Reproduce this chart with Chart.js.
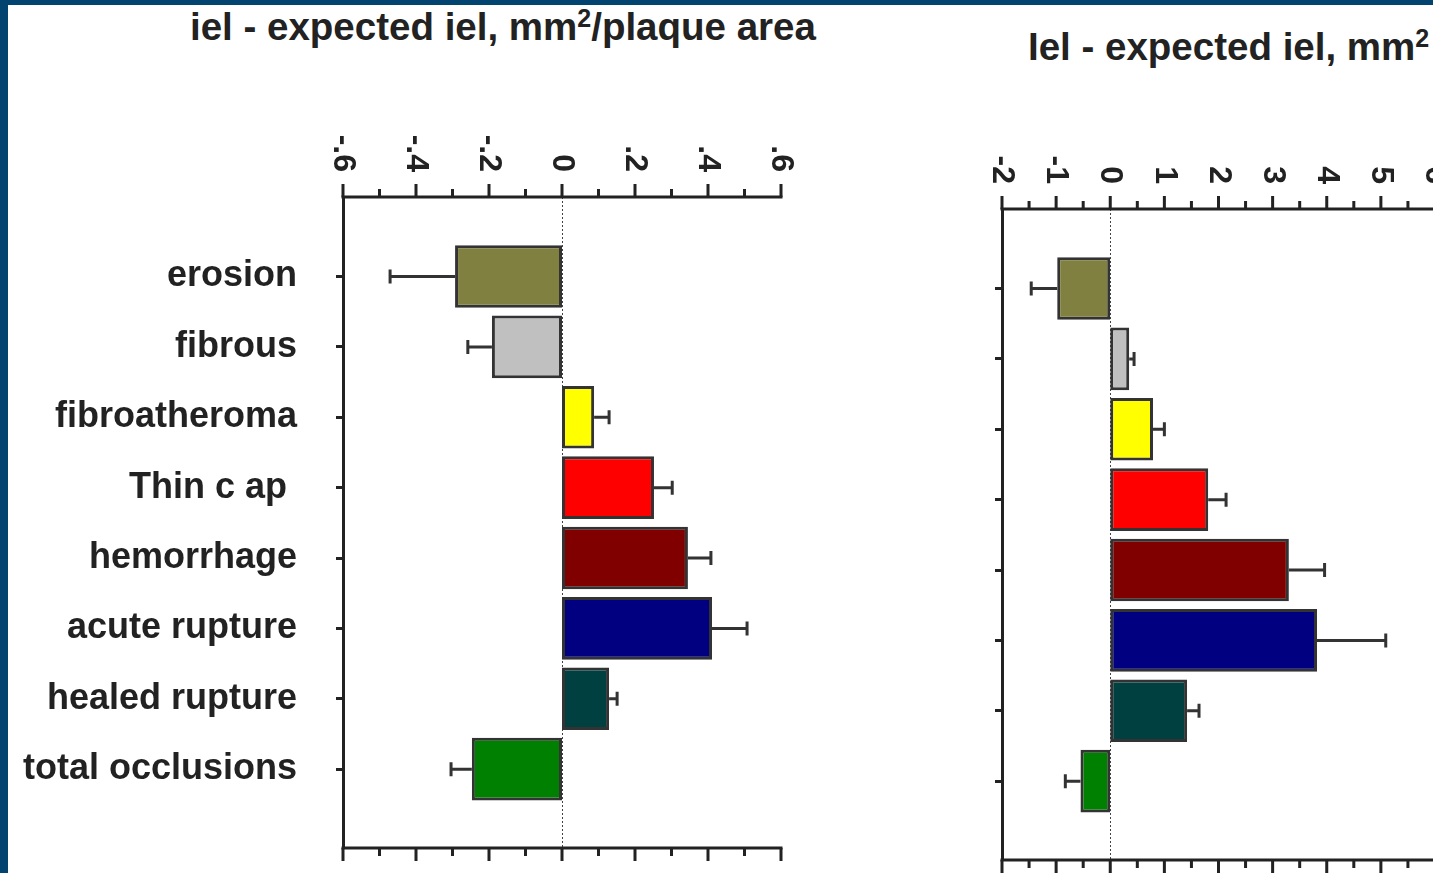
<!DOCTYPE html>
<html>
<head>
<meta charset="utf-8">
<script src="https://cdn.jsdelivr.net/npm/chart.js@4.4.0/dist/chart.umd.min.js"></script>
<style>
  html, body { margin:0; padding:0; background:#fff; width:1433px; height:873px; overflow:hidden; position:relative; }
  .marcoArriba { position:absolute; left:0; top:0; width:1433px; height:5px; background:#02446f; z-index:2; }
  .marcoIzq { position:absolute; left:0; top:0; width:8px; height:873px; background:#02446f; z-index:2; }
  .titulo { position:absolute; font:bold 38.5px "Liberation Sans", Arial, sans-serif; color:#222; white-space:nowrap; line-height:38px; }
  .titulo sup { font-size:25px; vertical-align:13px; line-height:0; }
  #cajaIzq { position:absolute; left:0; top:0; width:900px; height:920px; }
  #cajaDer { position:absolute; left:920px; top:0; width:600px; height:920px; }
</style>
</head>
<body>
<div class="marcoArriba"></div>
<div class="marcoIzq"></div>
<div class="titulo" style="left:190px; top:8px;">iel - expected iel, mm<sup>2</sup>/plaque area</div>
<div class="titulo" style="left:1028px; top:28px;">Iel - expected iel, mm<sup>2</sup></div>
<div id="cajaIzq"><canvas id="chartArea" width="900" height="920"></canvas></div>
<div id="cajaDer"><canvas id="chartMm" width="600" height="920"></canvas></div>

<script>
// categorias y colores de cada tipo de placa
const categorias = ["erosion", "fibrous", "fibroatheroma", "Thin c ap ", "hemorrhage", "acute rupture", "healed rupture", "total occlusions"];
const colores = ["#808040", "#c0c0c0", "#ffff00", "#ff0000", "#800000", "#000080", "#004040", "#008000"];

// grafico izquierdo: mm2 / plaque area
const valoresArea = [-0.293, -0.192, 0.088, 0.252, 0.345, 0.411, 0.129, -0.247];
const erroresArea = [0.178, 0.066, 0.041, 0.050, 0.063, 0.096, 0.022, 0.057];
const ticksArea = [-0.6, -0.4, -0.2, 0, 0.2, 0.4, 0.6];
const etiquetasArea = ["-.6", "-.4", "-.2", "0", ".2", ".4", ".6"];

// grafico derecho: mm2
const valoresMm = [-0.98, 0.35, 0.79, 1.81, 3.30, 3.82, 1.42, -0.55];
const erroresMm = [0.48, 0.09, 0.21, 0.33, 0.66, 1.27, 0.22, 0.28];
const ticksMm = [-2, -1, 0, 1, 2, 3, 4, 5, 6];
const etiquetasMm = ["-2", "-1", "0", "1", "2", "3", "4", "5", "6"];

const FUENTE = '"Liberation Sans", Arial, sans-serif';
const TINTA = '#222';

// Ejes de arriba y abajo con marcas mayores/menores y etiquetas giradas
const pluginEjes = {
  id: 'ejes',
  beforeDatasetsDraw(chart) {
    const {ctx, chartArea: a, scales: {x}} = chart;
    ctx.save();
    ctx.strokeStyle = '#444';
    ctx.lineWidth = 1;
    ctx.setLineDash([2, 2]);
    const x0 = Math.round(x.getPixelForValue(0)) + 0.5;
    ctx.beginPath();
    ctx.moveTo(x0, a.top);
    ctx.lineTo(x0, a.bottom);
    ctx.stroke();
    ctx.restore();
  },
  afterDraw(chart, args, opts) {
    const {ctx, chartArea: a, scales: {x}} = chart;
    const mayores = opts.mayores;
    const xFin = x.getPixelForValue(mayores[mayores.length - 1]);
    ctx.save();
    ctx.strokeStyle = TINTA;
    ctx.lineWidth = 3;
    // lineas de arriba y abajo
    ctx.beginPath();
    ctx.moveTo(a.left - 1.5, a.top);
    ctx.lineTo(xFin + 1.5, a.top);
    ctx.moveTo(a.left - 1.5, a.bottom);
    ctx.lineTo(xFin + 1.5, a.bottom);
    ctx.stroke();

    const marca = (v, largo) => {
      const px = x.getPixelForValue(v);
      ctx.beginPath();
      ctx.moveTo(px, a.top);
      ctx.lineTo(px, a.top - largo);
      ctx.moveTo(px, a.bottom);
      ctx.lineTo(px, a.bottom + largo);
      ctx.stroke();
    };
    mayores.forEach(v => marca(v, 13));
    for (let i = 0; i < mayores.length - 1; i++) {
      marca((mayores[i] + mayores[i + 1]) / 2, 8);
    }

    // etiquetas giradas 90 grados
    ctx.fillStyle = TINTA;
    ctx.font = 'bold 32px ' + FUENTE;
    ctx.textAlign = 'right';
    ctx.textBaseline = 'middle';
    mayores.forEach((v, i) => {
      ctx.save();
      ctx.translate(x.getPixelForValue(v), a.top - 25);
      ctx.rotate(Math.PI / 2);
      ctx.fillText(opts.etiquetas[i], 0, 0);
      ctx.restore();
    });
    ctx.restore();
  }
};

// barras de error de un solo lado
const pluginErrores = {
  id: 'errores',
  afterDatasetsDraw(chart, args, opts) {
    const {ctx, scales: {x, y}} = chart;
    const datos = chart.data.datasets[0].data;
    ctx.save();
    ctx.strokeStyle = '#333';
    ctx.lineWidth = 3;
    datos.forEach((d, i) => {
      const signo = d.x < 0 ? -1 : 1;
      const xa = x.getPixelForValue(d.x);
      const xb = x.getPixelForValue(d.x + signo * opts.valores[i]);
      const py = y.getPixelForValue(d.y);
      ctx.beginPath();
      ctx.moveTo(xa, py);
      ctx.lineTo(xb, py);
      ctx.moveTo(xb, py - 7);
      ctx.lineTo(xb, py + 7);
      ctx.stroke();
    });
    ctx.restore();
  }
};

function crearGrafico(idCanvas, valores, errores, mayores, etiquetas, conEtiquetas, anchoEje, relleno) {
  const canvas = document.getElementById(idCanvas);
  new Chart(canvas, {
    type: 'bar',
    data: {
      datasets: [{
        data: valores.map((v, i) => ({x: v, y: i})),
        backgroundColor: colores,
        borderColor: '#333',
        borderWidth: 3,
        borderSkipped: false,
        categoryPercentage: 1,
        barPercentage: 0.89
      }]
    },
    options: {
      indexAxis: 'y',
      responsive: false,
      animation: false,
      layout: { padding: relleno },
      plugins: {
        legend: { display: false },
        tooltip: { enabled: false },
        ejes: { mayores: mayores, etiquetas: etiquetas },
        errores: { valores: errores }
      },
      scales: {
        x: { type: 'linear', display: false, min: mayores[0], max: mayores[mayores.length - 1] },
        y: {
          type: 'linear',
          reverse: true,
          offset: false,
          min: -1.13,
          max: 8.12,
          afterBuildTicks: s => { s.ticks = categorias.map((c, i) => ({value: i})); },
          afterFit: s => { s.width = anchoEje; },
          ticks: {
            display: conEtiquetas,
            padding: 39,
            color: TINTA,
            font: { family: FUENTE, size: 36, weight: 'bold' },
            callback: v => categorias[v]
          },
          grid: { offset: false, drawOnChartArea: false, tickLength: 7, tickWidth: 3, tickColor: TINTA },
          border: { display: true, width: 3, color: TINTA }
        }
      }
    },
    plugins: [pluginEjes, pluginErrores]
  });
}

crearGrafico('chartArea', valoresArea, erroresArea, ticksArea, etiquetasArea, true, 343, {top: 197, bottom: 72, left: 0, right: 119});
crearGrafico('chartMm', valoresMm, erroresMm, ticksMm, etiquetasMm, false, 82, {top: 209, bottom: 60, left: 0, right: 85});
</script>
</body>
</html>
